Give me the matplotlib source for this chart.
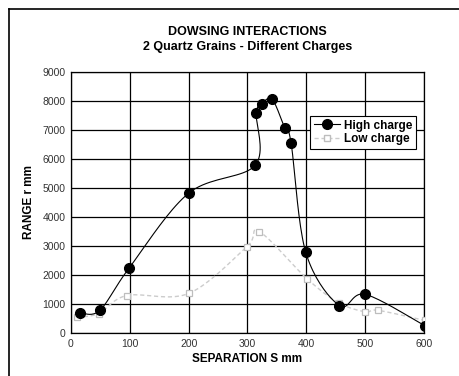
import numpy as np
import matplotlib
matplotlib.use("Agg")
import matplotlib.pyplot as plt
from matplotlib.lines import Line2D

# values
high_x = [16, 49, 99, 200, 313, 315, 325, 342, 363, 374, 399, 456, 500, 601]
high_y = [700, 790, 2250, 4820, 5780, 7570, 7900, 8050, 7080, 6560, 2790, 955, 1340, 265]
low_x = [10, 47, 95, 200, 299, 320, 401, 455, 500, 522, 602]
low_y = [550, 680, 1300, 1370, 2980, 3500, 1880, 1050, 740, 790, 440]

x_ticks = [0, 100, 200, 300, 400, 500, 600]
y_ticks = [0, 1000, 2000, 3000, 4000, 5000, 6000, 7000, 8000, 9000]

FONT = ["Liberation Sans Narrow", "Liberation Sans", "DejaVu Sans"]


def smooth(xs, ys, n=20, xr=600.0, yr=9000.0):
    # Catmull-Rom through the points, in axis-normalised space
    p = np.column_stack([np.asarray(xs, float) / xr, np.asarray(ys, float) / yr])
    p = np.vstack([p[0], p, p[-1]])
    out = []
    t = np.linspace(0, 1, n, endpoint=False)[:, None]
    for i in range(1, len(p) - 2):
        p0, p1, p2, p3 = p[i - 1], p[i], p[i + 1], p[i + 2]
        seg = 0.5 * ((2 * p1) + (-p0 + p2) * t
                     + (2 * p0 - 5 * p1 + 4 * p2 - p3) * t ** 2
                     + (-p0 + 3 * p1 - 3 * p2 + p3) * t ** 3)
        out.append(seg)
    out.append(p[-2][None, :])
    out = np.vstack(out)
    return out[:, 0] * xr, out[:, 1] * yr


fig = plt.figure(figsize=(4.6, 3.76), dpi=100)
ax = fig.add_axes([0.1543, 0.1136, 0.7674, 0.6957])

sx, sy = smooth(low_x, low_y)
ax.plot(sx, sy, color="#cccccc", lw=1.0, ls=(0, (3, 2)), zorder=3)
ax.plot(low_x, low_y, ls="none", marker="s", ms=5, mfc="white", mec="#bdbdbd",
        mew=0.9, zorder=4)

sx, sy = smooth(high_x, high_y)
ax.plot(sx, sy, color="black", lw=0.8, zorder=5)
ax.plot(high_x, high_y, ls="none", marker="o", ms=7, color="black", zorder=6)

ax.set_xlim(0, 600)
ax.set_ylim(0, 9000)
ax.set_xticks(x_ticks)
ax.set_yticks(y_ticks)
ax.tick_params(length=0, labelsize=7.5, labelcolor="#333333", pad=4)
for lab in ax.get_xticklabels() + ax.get_yticklabels():
    lab.set_family(FONT)
ax.grid(True, color="black", lw=0.9)
ax.set_axisbelow(True)
for s in ax.spines.values():
    s.set_linewidth(0.9)

ax.set_xlabel("SEPARATION S mm", fontsize=8.5, fontweight="bold", family=FONT, labelpad=3)
ax.set_ylabel("RANGE r mm", fontsize=8.5, fontweight="bold", family=FONT, labelpad=5)

fig.text(0.538, 0.915, "DOWSING INTERACTIONS", ha="center", va="center",
         fontsize=9, fontweight="bold", family=FONT)
fig.text(0.538, 0.874, "2 Quartz Grains - Different Charges", ha="center", va="center",
         fontsize=9, fontweight="bold", family=FONT)

handles = [
    Line2D([], [], color="black", lw=0.8, marker="o", ms=7, label="High charge"),
    Line2D([], [], color="#cccccc", lw=1.0, ls=(0, (3, 2)), marker="s", ms=4,
           mfc="white", mec="#bdbdbd", label="Low charge"),
]
leg = ax.legend(handles=handles, loc="upper right", bbox_to_anchor=(0.995, 0.853),
                frameon=True, fancybox=False, edgecolor="black", framealpha=1,
                handlelength=2.2, handletextpad=0.4, borderpad=0.3, labelspacing=0.15,
                prop={"family": FONT, "weight": "bold", "size": 8.5})
leg.get_frame().set_linewidth(0.8)

# page frame (top and left edges of the scanned box)
fig.add_artist(Line2D([0.02, 1.0], [0.976, 0.976], color="black", lw=1.2))
fig.add_artist(Line2D([0.02, 0.02], [0.0, 0.976], color="black", lw=1.2))

fig.savefig("out.png", dpi=100)
